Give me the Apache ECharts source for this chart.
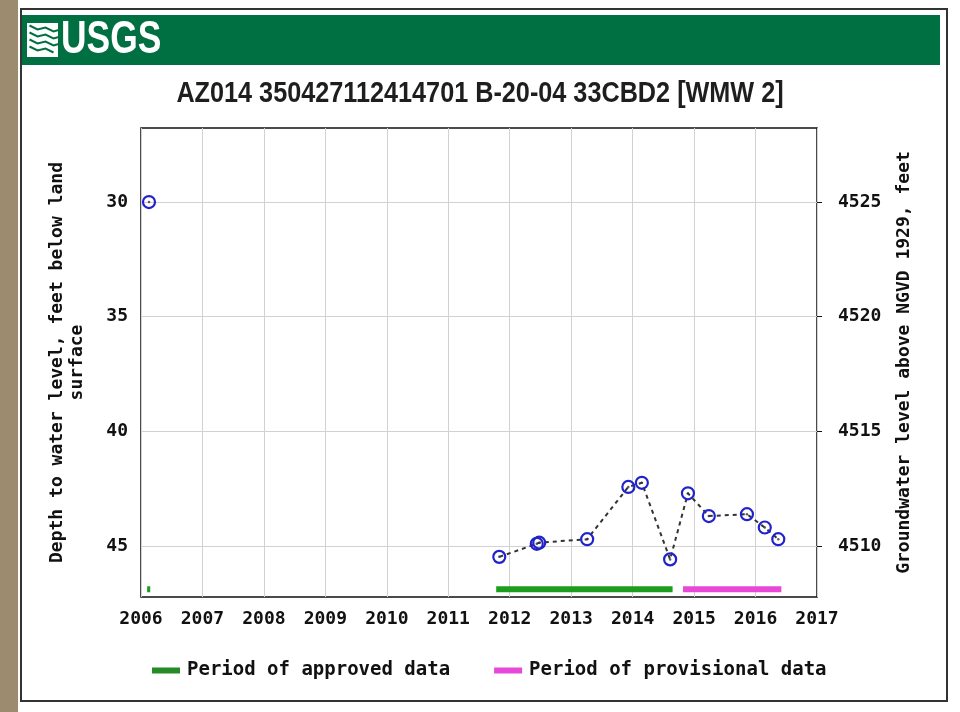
<!DOCTYPE html>
<html><head><meta charset="utf-8">
<script src="https://cdn.jsdelivr.net/npm/echarts@6/dist/echarts.min.js"></script>
<style>html,body{margin:0;padding:0;background:#fff}#c{width:960px;height:712px}</style>
</head><body><div id="c"></div>
<script>
// ---- data ----
const measDates  = [2006.13, 2011.83, 2012.44, 2012.48, 2013.26, 2013.93, 2014.15, 2014.61, 2014.90, 2015.24, 2015.86, 2016.15, 2016.37];
const measDepths = [30.0, 45.47, 44.90, 44.85, 44.70, 42.42, 42.24, 45.58, 42.70, 43.69, 43.61, 44.19, 44.70];
const approvedPeriods    = [[2006.10, 2006.15], [2011.78, 2014.65]];
const provisionalPeriods = [[2014.82, 2016.42]];
const periodBarDepth = 46.88;
const xTicks = [2006, 2007, 2008, 2009, 2010, 2011, 2012, 2013, 2014, 2015, 2016, 2017];
const depthTicks = [30, 35, 40, 45];
const elevTicks = [4510, 4515, 4520, 4525];
const landElevation = 4555;
const depthRange = [26.77, 47.22];
const titleText = 'AZ014 350427112414701 B-20-04 33CBD2 [WMW 2]';

// ---- build ----
const points = measDates.map((d, i) => [d, measDepths[i]]);
const lineData = [];
points.forEach((p, i) => {
  if (i > 0 && p[0] - points[i - 1][0] > 1) lineData.push([null, null]);
  lineData.push(p);
});
function periodData(periods) {
  const out = [];
  periods.forEach((p, i) => {
    if (i > 0) out.push([null, null]);
    out.push([p[0], periodBarDepth], [p[1], periodBarDepth]);
  });
  return out;
}
const mono = '"DejaVu Sans Mono", "Liberation Mono", monospace';
const sans = '"Liberation Sans", Arial, sans-serif';
const chart = echarts.init(document.getElementById('c'), null, {renderer: 'canvas'});
chart.setOption({
  backgroundColor: '#ffffff',
  animation: false,
  graphic: [
    {type: 'rect', left: 0, top: 0, shape: {width: 18, height: 712}, style: {fill: '#9d8b70'}, z: -10},
    {type: 'rect', left: 20, top: 8, shape: {width: 926, height: 692}, style: {fill: '#fff', stroke: '#333', lineWidth: 2}, z: -9},
    {type: 'rect', left: 22, top: 15, shape: {width: 918, height: 50}, style: {fill: '#006f41'}, z: -8},
    {type: 'rect', left: 27, top: 23, shape: {width: 31, height: 34}, style: {fill: '#ffffff'}, z: -7},
    {type: 'group', left: 27, top: 23, z: -6, children: [
      {type: 'polyline', shape: {points: [[0,6],[8,10],[16,8],[24,12],[31,10]]}, style: {stroke: '#006f41', lineWidth: 2, fill: null}},
      {type: 'polyline', shape: {points: [[0,13],[8,17],[16,15],[24,19],[31,17]]}, style: {stroke: '#006f41', lineWidth: 2, fill: null}},
      {type: 'polyline', shape: {points: [[0,20],[8,24],[16,22],[24,26],[31,24]]}, style: {stroke: '#006f41', lineWidth: 2, fill: null}},
      {type: 'polyline', shape: {points: [[0,27],[8,31],[16,29],[24,33]]}, style: {stroke: '#006f41', lineWidth: 2, fill: null}}
    ]},
    {type: 'text', x: 61, y: 40, scaleX: 0.77, z: -5,
      style: {text: 'USGS', fill: '#ffffff', font: 'bold 46px ' + sans, textAlign: 'left', textVerticalAlign: 'middle'}},
    {type: 'text', x: 480, y: 94, scaleX: 0.87, z: 5,
      style: {text: titleText, fill: '#1e1e1e', font: 'bold 29px ' + sans, textAlign: 'center', textVerticalAlign: 'middle'}}
  ],
  grid: {left: 141, right: 143, top: 128, bottom: 115, show: true, borderColor: '#111', borderWidth: 1.5, backgroundColor: 'transparent'},
  legend: {
    left: 147, top: 656, itemWidth: 28, itemHeight: 6, itemGap: 44, icon: 'rect',
    textStyle: {fontFamily: mono, fontWeight: 'bold', fontSize: 19, color: '#111', padding: [0, 0, 0, 2]},
    data: ['Period of approved data', 'Period of provisional data']
  },
  xAxis: {
    type: 'value', min: 2006, max: 2017, interval: 1,
    axisLine: {show: false}, axisTick: {show: false},
    axisLabel: {margin: 13, formatter: v => String(v), fontFamily: mono, fontWeight: 'bold', fontSize: 18, color: '#111'},
    splitLine: {show: true, lineStyle: {color: '#d2d2d2', width: 1}}
  },
  yAxis: [
    {
      type: 'value', inverse: true, min: depthRange[0], max: depthRange[1], position: 'left',
      name: 'Depth to water level, feet below land\nsurface', nameLocation: 'middle', nameRotate: 90, nameGap: 54,
      nameTextStyle: {fontFamily: mono, fontWeight: 'bold', fontSize: 18, color: '#111', lineHeight: 20},
      axisLine: {show: false}, axisTick: {show: false, customValues: depthTicks},
      axisLabel: {customValues: depthTicks, margin: 13, formatter: v => String(v), fontFamily: mono, fontWeight: 'bold', fontSize: 18, color: '#111'},
      splitLine: {show: true, lineStyle: {color: '#d2d2d2', width: 1}}
    },
    {
      type: 'value', min: landElevation - depthRange[1], max: landElevation - depthRange[0], position: 'right',
      name: 'Groundwater level above NGVD 1929, feet', nameLocation: 'middle', nameRotate: 90, nameGap: 78,
      nameTextStyle: {fontFamily: mono, fontWeight: 'bold', fontSize: 18, color: '#111'},
      axisLine: {show: false},
      axisTick: {show: true, inside: false, length: 5, customValues: elevTicks, lineStyle: {color: '#111'}},
      axisLabel: {customValues: elevTicks, margin: 21, formatter: v => String(v), fontFamily: mono, fontWeight: 'bold', fontSize: 18, color: '#111'},
      splitLine: {show: false}
    }
  ],
  series: [
    {
      name: 'Period of approved data', type: 'line', data: periodData(approvedPeriods), yAxisIndex: 0,
      symbol: 'none', lineStyle: {color: '#1c9e1c', width: 6, cap: 'butt'}, itemStyle: {color: '#268a26'}, connectNulls: false, z: 2
    },
    {
      name: 'Period of provisional data', type: 'line', data: periodData(provisionalPeriods), yAxisIndex: 0,
      symbol: 'none', lineStyle: {color: '#e848d8', width: 6, cap: 'butt'}, itemStyle: {color: '#e848d8'}, connectNulls: false, z: 2
    },
    {
      name: 'levels', type: 'line', data: lineData, yAxisIndex: 0, connectNulls: false,
      symbol: 'circle', symbolSize: 12, showAllSymbol: true,
      lineStyle: {color: '#333', width: 2, type: [4, 4]},
      itemStyle: {color: 'rgba(255,255,255,0)', borderColor: '#2222cc', borderWidth: 2.2}, z: 3
    },
    {
      name: 'dots', type: 'scatter', data: points, yAxisIndex: 0, symbolSize: 2.5,
      itemStyle: {color: '#333'}, z: 4
    }
  ]
});
</script></body></html>
